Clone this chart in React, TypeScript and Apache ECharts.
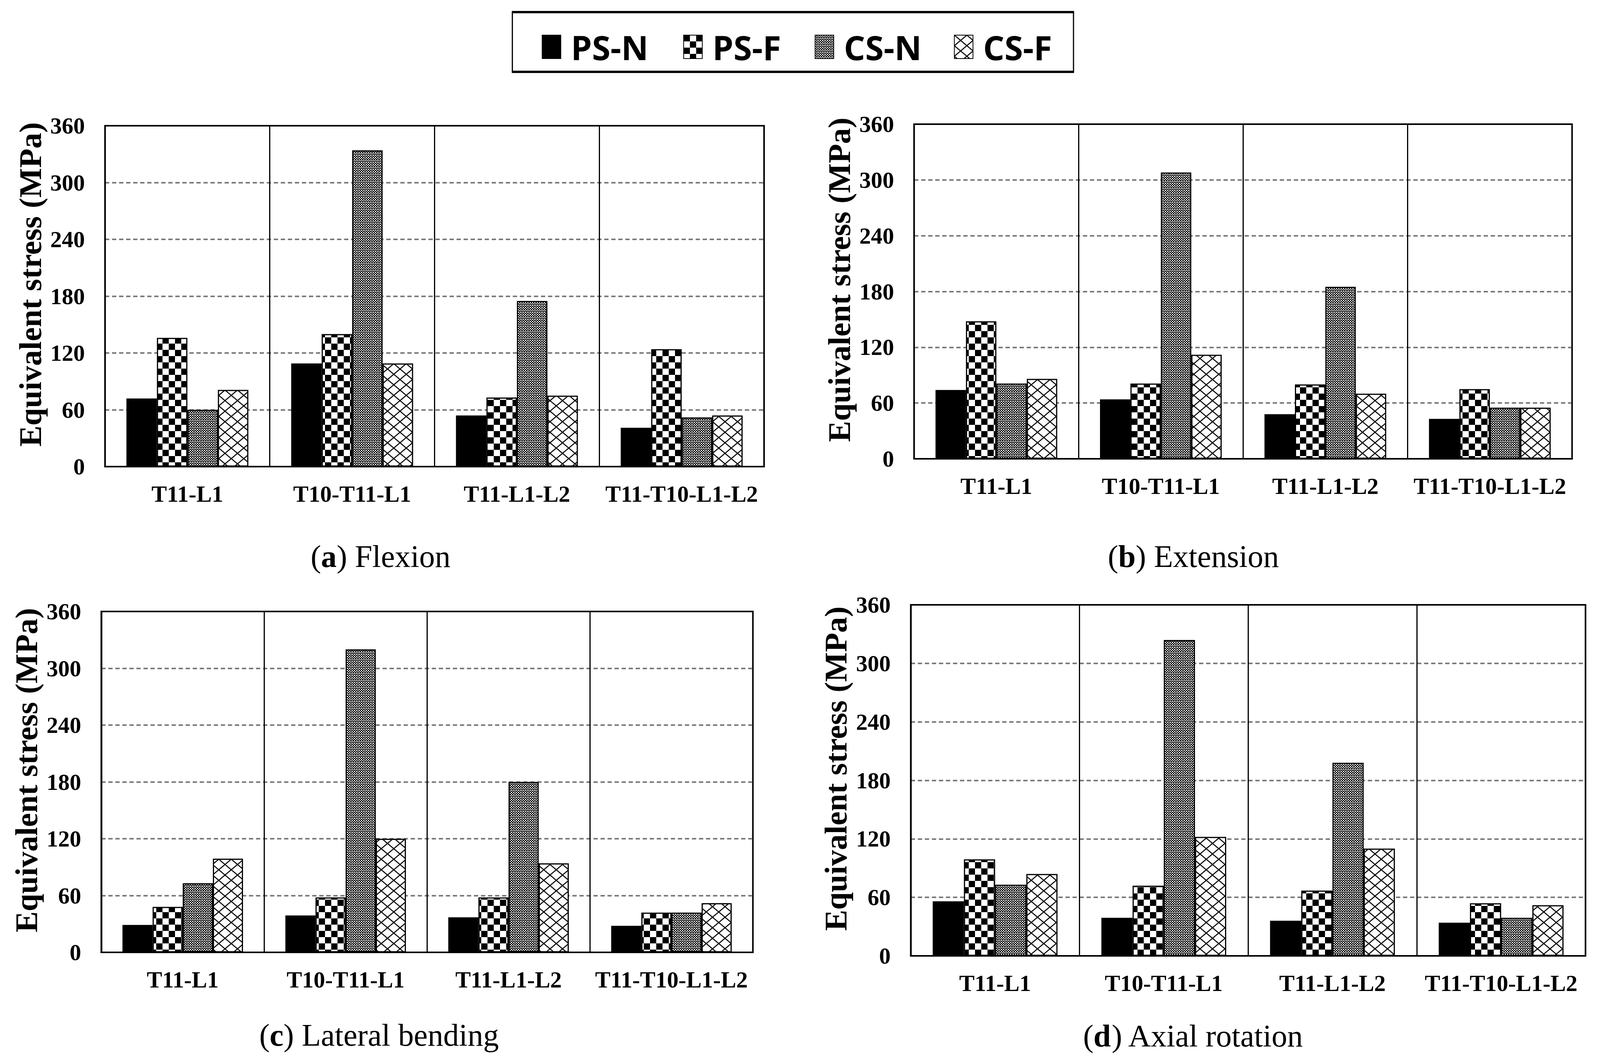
import React, { useEffect, useRef } from "react";
import * as echarts from "echarts";

// ---------- data ----------
const categories = ["T11-L1", "T10-T11-L1", "T11-L1-L2", "T11-T10-L1-L2"];
const seriesNames = ["PS-N", "PS-F", "CS-N", "CS-F"];
const yMin = 0;
const yMax = 360;
const yStep = 60;
const yAxisTitle = "Equivalent stress (MPa)";
const panelLetters = ["a", "b", "c", "d"];
const panelNames = ["Flexion", "Extension", "Lateral bending", "Axial rotation"];

const flexionPSN = [72, 109, 54, 41];
const flexionPSF = [136, 140, 73, 124];
const flexionCSN = [60, 334, 175, 52];
const flexionCSF = [81, 109, 75, 54];

const extensionPSN = [74, 64, 48, 43];
const extensionPSF = [148, 81, 80, 75];
const extensionCSN = [81, 308, 185, 55];
const extensionCSF = [86, 112, 70, 55];

const lateralPSN = [29, 39, 37, 28];
const lateralPSF = [48, 58, 58, 42];
const lateralCSN = [73, 320, 180, 42];
const lateralCSF = [99, 120, 94, 52];

const axialPSN = [56, 39, 36, 34];
const axialPSF = [99, 72, 67, 54];
const axialCSN = [73, 324, 198, 39];
const axialCSF = [84, 122, 110, 52];

const panelData = [
  [flexionPSN, flexionPSF, flexionCSN, flexionCSF],
  [extensionPSN, extensionPSF, extensionCSN, extensionCSF],
  [lateralPSN, lateralPSF, lateralCSN, lateralCSF],
  [axialPSN, axialPSF, axialCSN, axialCSF],
];

// ---------- layout (design space 4297 x 2707) ----------
const DW = 4297;
const DH = 2707;
const PANELS = [
  { left: 282, top: 322, right: 2052, bottom: 1195, capX: 1022, capY: 1425 },
  { left: 2455, top: 318, right: 4222, bottom: 1175, capX: 3205, capY: 1425 },
  { left: 272, top: 1566, right: 2022, bottom: 2439, capX: 1018, capY: 2651 },
  { left: 2446, top: 1549, right: 4258, bottom: 2448, capX: 3205, capY: 2653 },
];
const LEGEND_ICON_X = [1455, 1835, 2188, 2562];
const LEGEND_TOP = 77;
const SERIF = "'Liberation Serif', 'Times New Roman', serif";
const SANS = "'Open Sans', 'Liberation Sans', sans-serif";

function makePattern(w: number, h: number, draw: (ctx: CanvasRenderingContext2D) => void) {
  const c = document.createElement("canvas");
  c.width = w;
  c.height = h;
  const ctx = c.getContext("2d") as CanvasRenderingContext2D;
  ctx.fillStyle = "#ffffff";
  ctx.fillRect(0, 0, w, h);
  ctx.fillStyle = "#000000";
  ctx.strokeStyle = "#000000";
  draw(ctx);
  return { image: c.toDataURL("image/png"), imageWidth: w, imageHeight: h, repeat: "repeat" };
}

export default function App() {
  const ref = useRef<HTMLDivElement>(null);

  useEffect(() => {
    document.body.style.margin = "0";
    document.body.style.overflow = "hidden";
    const el = ref.current;
    if (!el) return;
    const cw = el.clientWidth || DW;
    const ch = el.clientHeight || DH;
    const sx = cw / DW;
    const sy = ch / DH;
    const fs = Math.min(sx, sy);
    const X = (v: number) => v * sx;
    const Y = (v: number) => v * sy;
    const F = (v: number) => v * fs;

    const chart = echarts.init(el, undefined, { renderer: "svg" });

    const checker = makePattern(32, 32, (ctx) => {
      ctx.fillRect(0, 0, 16, 16);
      ctx.fillRect(16, 16, 16, 16);
    });
    const fine = makePattern(6, 6, (ctx) => {
      ctx.fillRect(0, 0, 6, 6);
      ctx.fillStyle = "#ffffff";
      ctx.fillRect(0, 0, 3, 3);
      ctx.fillRect(3, 3, 3, 2);
    });
    const diamond = makePattern(32, 27, (ctx) => {
      ctx.lineWidth = 2.6;
      for (let n = -1; n <= 1; n++) {
        ctx.beginPath();
        ctx.moveTo(0, n * 27);
        ctx.lineTo(32, n * 27 + 27);
        ctx.stroke();
        ctx.beginPath();
        ctx.moveTo(32, n * 27);
        ctx.lineTo(0, n * 27 + 27);
        ctx.stroke();
      }
    });
    const fills: any[] = ["#000000", checker, fine, diamond];

    const grids = PANELS.map((p) => ({
      left: X(p.left),
      top: Y(p.top),
      width: X(p.right - p.left),
      height: Y(p.bottom - p.top),
      show: true,
      borderColor: "#000",
      borderWidth: 4,
      backgroundColor: "rgba(0,0,0,0)",
      containLabel: false,
    }));

    const xAxes = PANELS.map((_, i) => ({
      type: "category",
      gridIndex: i,
      data: categories,
      axisLine: { show: true, lineStyle: { color: "#000", width: 4 } },
      axisTick: { show: false },
      axisLabel: {
        interval: 0,
        color: "#000",
        fontFamily: SERIF,
        fontWeight: "bold",
        fontSize: F(62),
        margin: Y(40),
      },
      splitLine: { show: true, interval: 0, lineStyle: { color: "#000", width: 3 } },
    }));

    const yAxes = PANELS.map((_, i) => ({
      type: "value",
      gridIndex: i,
      min: yMin,
      max: yMax,
      interval: yStep,
      name: yAxisTitle,
      nameLocation: "middle",
      nameRotate: 90,
      nameGap: X(158),
      nameTextStyle: {
        color: "#000",
        fontFamily: SERIF,
        fontWeight: "bold",
        fontSize: F(85),
        padding: [0, 0, 0, Y(60)],
      },
      axisLine: { show: true, lineStyle: { color: "#000", width: 4 } },
      axisTick: { show: false },
      axisLabel: { color: "#000", fontFamily: SERIF, fontWeight: "bold", fontSize: F(62), margin: X(54) },
      splitLine: {
        show: true,
        showMinLine: false,
        showMaxLine: false,
        lineStyle: { color: "#7a7a7a", width: 4, type: [11, 7] },
      },
    }));

    const series: any[] = [];
    panelData.forEach((groups, i) => {
      groups.forEach((vals, j) => {
        series.push({
          type: "bar",
          name: seriesNames[j],
          xAxisIndex: i,
          yAxisIndex: i,
          data: vals,
          barGap: "0%",
          barCategoryGap: "26%",
          itemStyle: { color: fills[j], borderColor: "#000", borderWidth: j === 0 ? 0 : 3 },
          emphasis: { disabled: true },
        });
      });
    });

    const legends = seriesNames.map((n, j) => ({
      data: [n],
      left: X(LEGEND_ICON_X[j]),
      top: Y(LEGEND_TOP),
      padding: 0,
      itemWidth: X(50),
      itemHeight: Y(60),
      icon: "rect",
      selectedMode: false,
      itemStyle: { borderColor: "#000", borderWidth: 2 },
      textStyle: {
        color: "#000",
        fontFamily: SANS,
        fontWeight: "bold",
        fontSize: F(90),
        padding: [0, 0, 0, X(22)],
      },
    }));

    const captions = PANELS.map((p, i) => ({
      type: "text",
      x: X(p.capX),
      y: Y(p.capY),
      style: {
        text: `{n|(}{b|${panelLetters[i]}}{n|) ${panelNames[i]}}`,
        align: "center",
        verticalAlign: "middle",
        rich: {
          n: { fontFamily: SERIF, fontSize: F(84), fill: "#000" },
          b: { fontFamily: SERIF, fontSize: F(84), fontWeight: "bold", fill: "#000" },
        },
      },
    }));

    const legendBox = [
      {
        type: "rect",
        shape: { x: X(1376), y: Y(30), width: X(1507), height: Y(155) },
        style: { fill: "#fff", stroke: "#000", lineWidth: 3 },
        z: 0,
      },
      {
        type: "line",
        shape: { x1: X(1375), y1: Y(31), x2: X(2884), y2: Y(31) },
        style: { stroke: "#000", lineWidth: 6 },
        z: 1,
      },
      {
        type: "line",
        shape: { x1: X(1375), y1: Y(184), x2: X(2884), y2: Y(184) },
        style: { stroke: "#000", lineWidth: 6 },
        z: 1,
      },
    ];

    chart.setOption({
      animation: false,
      backgroundColor: "#fff",
      textStyle: { fontFamily: SERIF },
      legend: legends,
      grid: grids,
      xAxis: xAxes,
      yAxis: yAxes,
      series,
      graphic: [...legendBox, ...captions],
    });

    return () => chart.dispose();
  }, []);

  return (
    <div
      ref={ref}
      style={{ position: "fixed", left: 0, top: 0, width: "100vw", height: "100vh", background: "#fff" }}
    />
  );
}
